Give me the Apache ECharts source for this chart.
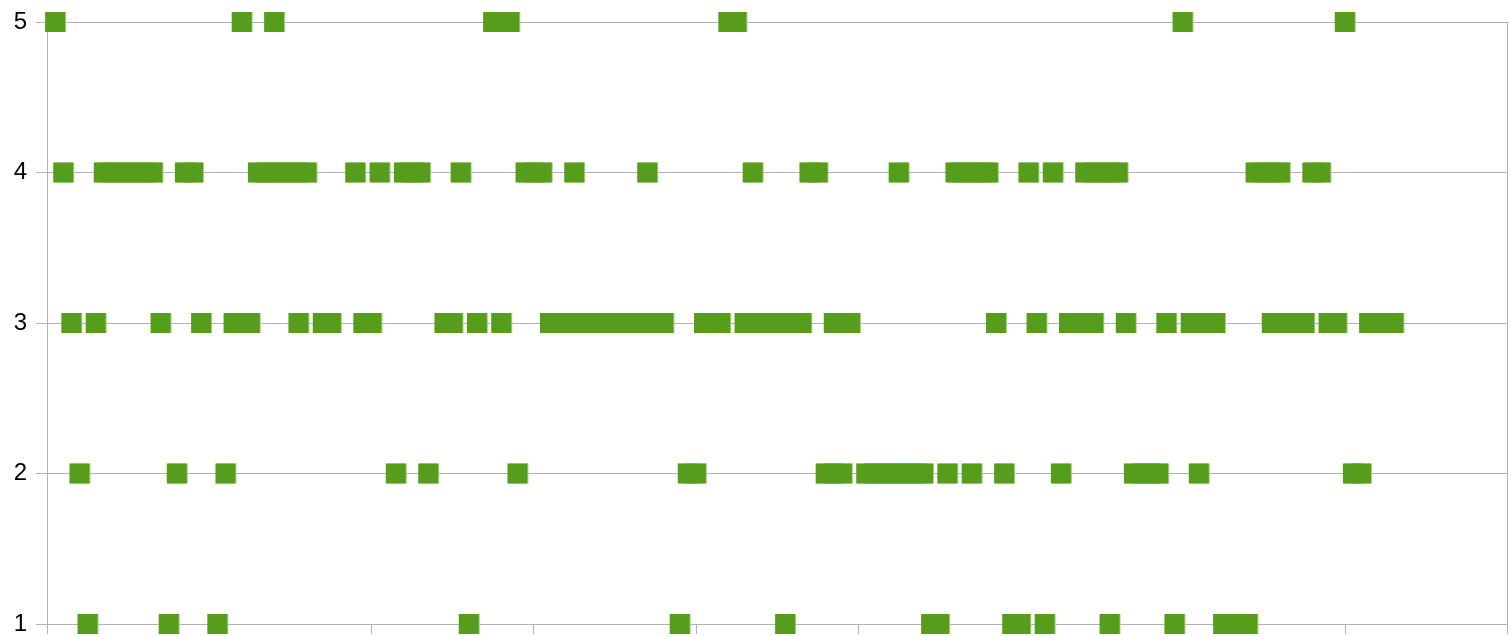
<!DOCTYPE html>
<html>
<head>
<meta charset="utf-8">
<script src="https://cdn.jsdelivr.net/npm/echarts@6/dist/echarts.min.js"></script>
<style>
  html, body { margin: 0; padding: 0; background: #ffffff; }
  #chart { width: 1511px; height: 636px; }
</style>
</head>
<body>
<div id="chart"></div>
<script>
// x positions (day index) of the points in each value row
const row5 = [1, 24, 28, 55, 56, 57, 84, 85, 140, 160];
const row4 = [2, 7, 8, 9, 10, 11, 12, 13, 17, 18, 26, 27, 28, 29, 30, 31, 32, 38, 41, 44, 45, 46, 51, 59, 60, 61, 65, 74, 87, 94, 95, 105, 112, 113, 114, 115, 116, 121, 124, 128, 129, 130, 131, 132, 149, 150, 151, 152, 156, 157];
const row3 = [3, 6, 14, 19, 23, 24, 25, 31, 34, 35, 39, 40, 49, 50, 53, 56, 62, 63, 64, 65, 66, 67, 68, 69, 70, 71, 72, 73, 74, 75, 76, 81, 82, 83, 86, 87, 88, 89, 90, 91, 92, 93, 97, 98, 99, 117, 122, 126, 127, 128, 129, 133, 138, 141, 142, 143, 144, 151, 152, 153, 154, 155, 158, 159, 163, 164, 165, 166];
const row2 = [4, 16, 22, 43, 47, 58, 79, 80, 96, 97, 98, 101, 102, 103, 104, 105, 106, 107, 108, 111, 114, 118, 125, 134, 135, 136, 137, 142, 161, 162];
const row1 = [5, 15, 21, 52, 78, 91, 109, 110, 119, 120, 123, 131, 139, 145, 146, 147, 148];
const yTicks = [1, 2, 3, 4, 5];

const rows = [[1, row1], [2, row2], [3, row3], [4, row4], [5, row5]];
const data = [];
rows.forEach(([y, xs]) => xs.forEach(x => data.push([x, y])));
data.sort((a, b) => a[0] - b[0]);

const gridColor = '#b3b3b3';
const chart = echarts.init(document.getElementById('chart'), null, { renderer: 'canvas' });
chart.setOption({
  animation: false,
  backgroundColor: '#ffffff',
  grid: { left: 47, right: 4, top: 22, bottom: 10, containLabel: false },
  xAxis: {
    type: 'value', min: 0, max: 180, interval: 20,
    axisLine: { show: true, lineStyle: { color: gridColor, width: 1 } },
    axisTick: { show: true, length: 10, lineStyle: { color: gridColor } },
    axisLabel: { show: false },
    splitLine: { show: false }
  },
  yAxis: [{
    type: 'value', min: 1, max: 5, interval: 1,
    axisLine: { show: true, lineStyle: { color: gridColor, width: 1 } },
    axisTick: { show: true, length: 11, lineStyle: { color: gridColor } },
    axisLabel: {
      margin: 20, color: '#000000', fontSize: 24,
      fontFamily: 'Liberation Sans, Arial, sans-serif',
      formatter: v => (yTicks.includes(v) ? String(v) : '')
    },
    splitLine: { show: true, lineStyle: { color: gridColor, width: 1 } }
  }, {
    type: 'value', min: 1, max: 5, interval: 1, position: 'right',
    axisLine: { show: true, lineStyle: { color: gridColor, width: 1 } },
    axisTick: { show: false }, axisLabel: { show: false }, splitLine: { show: false }
  }],
  series: [{
    type: 'scatter',
    data: data,
    symbol: 'rect',
    symbolSize: [20, 20],
    itemStyle: {
      color: '#579d1c',
      opacity: 1,
      shadowColor: '#a8d386',
      shadowBlur: 0,
      shadowOffsetX: 1,
      shadowOffsetY: 0
    },
    emphasis: { disabled: true }
  }]
});
</script>
</body>
</html>
